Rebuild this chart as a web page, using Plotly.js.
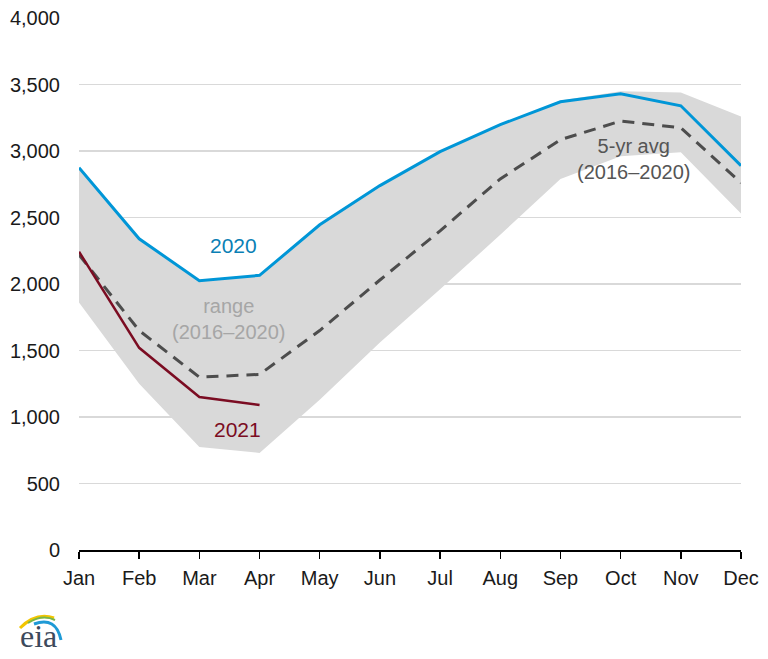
<!DOCTYPE html>
<html>
<head>
<meta charset="utf-8">
<script src="https://cdn.plot.ly/plotly-3.0.1.min.js"></script>
<style>html,body{margin:0;padding:0;background:#fff;}#chart{width:768px;height:659px;}</style>
</head>
<body>
<div id="chart"></div>
<script>
const months = ["Jan","Feb","Mar","Apr","May","Jun","Jul","Aug","Sep","Oct","Nov","Dec"];
const rangeLow  = [1860,1250,775,730,1130,1560,1960,2370,2790,2960,2990,2530];
const rangeHigh = [2880,2340,2030,2070,2450,2740,2995,3200,3380,3450,3440,3260];
const avg5yr    = [2220,1650,1300,1320,1650,2030,2400,2790,3085,3225,3175,2760];
const y2020     = [2875,2340,2025,2065,2445,2740,2995,3198,3370,3430,3340,2890];
const months2021 = ["Jan","Feb","Mar","Apr"];
const y2021     = [2243,1520,1150,1090];

const xi = months.map((m,i)=>i);
const xi21 = months2021.map(m=>months.indexOf(m));
const font = "Liberation Sans, Arial, sans-serif";

const traces = [
  {x: xi, y: rangeLow, type:'scatter', mode:'lines', line:{width:0, color:'#d9d9d9'}, hoverinfo:'skip', showlegend:false},
  {x: xi, y: rangeHigh, type:'scatter', mode:'lines', line:{width:0, color:'#d9d9d9'}, fill:'tonexty', fillcolor:'#d9d9d9', showlegend:false},
  {x: xi, y: avg5yr, type:'scatter', mode:'lines', line:{width:3, color:'#4d4d4d', dash:'12px,8px'}, showlegend:false},
  {x: xi, y: y2020, type:'scatter', mode:'lines', line:{width:3, color:'#0096d7'}, showlegend:false},
  {x: xi21, y: y2021, type:'scatter', mode:'lines', line:{width:2.5, color:'#7b0c22'}, showlegend:false}
];

// pixel helpers for plot geometry (plot area 79..741 x 18..550)
const px = v=>(v-79)/662, py = v=>(550-v)/532;

const layout = {
  width:768, height:659,
  margin:{l:79, r:27, t:18, b:109},
  paper_bgcolor:'#fff', plot_bgcolor:'#fff',
  font:{family:font, size:20, color:'#1a1a1a'},
  showlegend:false,
  xaxis:{
    range:[0,11], tickmode:'array', tickvals:xi, ticktext:months,
    showgrid:false, zeroline:false, showline:true, linecolor:'#000', linewidth:1.5,
    ticks:'outside', ticklen:7, tickwidth:1.5, tickcolor:'#000', ticklabelstandoff:2,
    tickfont:{family:font, size:20, color:'#1a1a1a'}, fixedrange:true
  },
  yaxis:{
    range:[0,4000], tickvals:[0,500,1000,1500,2000,2500,3000,3500,4000], tickformat:',d',
    showgrid:true, gridcolor:'#d9d9d9', gridwidth:1.2, zeroline:false, showline:false,
    ticks:'', ticklabelstandoff:18,
    tickfont:{family:font, size:20, color:'#1a1a1a'}, fixedrange:true
  },
  annotations:[
    {x:2.56, y:2290, xref:'x', yref:'y', text:'2020', showarrow:false, font:{family:font, size:21, color:'#0a7fb5'}},
    {x:2.49, y:1735, xref:'x', yref:'y', text:'range<br>(2016–2020)', showarrow:false, font:{family:font, size:20, color:'#a6a6a6'}},
    {x:2.63, y:908, xref:'x', yref:'y', text:'2021', showarrow:false, font:{family:font, size:21, color:'#7b0c22'}},
    {x:9.22, y:2937, xref:'x', yref:'y', text:'5-yr avg<br>(2016–2020)', showarrow:false, font:{family:font, size:20, color:'#555'}},
    {x:px(38), y:py(636), xref:'paper', yref:'paper', xanchor:'center', yanchor:'middle', text:'eia', showarrow:false, font:{family:'Liberation Serif, serif', size:32, color:'#3d4a5c'}}
  ],
  shapes:[
    {type:'path', xref:'paper', yref:'paper', path:'M '+px(20)+','+py(628)+' Q '+px(36)+','+py(612)+' '+px(54)+','+py(618), line:{color:'#f2c500', width:3}},
    {type:'path', xref:'paper', yref:'paper', path:'M '+px(28)+','+py(623)+' Q '+px(42)+','+py(614)+' '+px(55)+','+py(620), line:{color:'#7ab648', width:2}},
    {type:'path', xref:'paper', yref:'paper', path:'M '+px(34)+','+py(624)+' Q '+px(56)+','+py(616)+' '+px(61)+','+py(640), line:{color:'#1e9ad6', width:3}}
  ]
};

Plotly.newPlot('chart', traces, layout, {displayModeBar:false, staticPlot:true});
</script>
</body>
</html>
